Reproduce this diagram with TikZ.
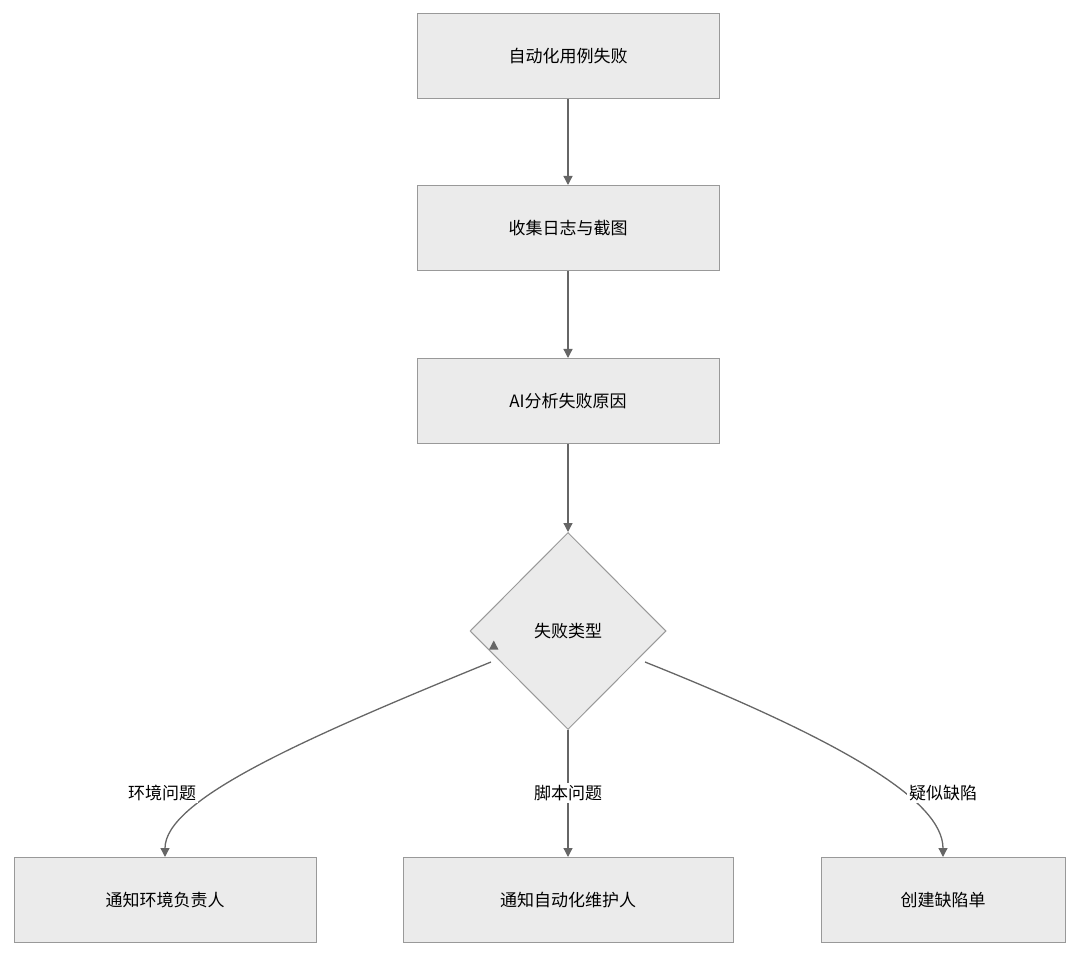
\documentclass[tikz,border=0pt]{standalone}
\usepackage{fontspec}
\setmainfont{Noto Sans CJK SC}
\usetikzlibrary{shapes.geometric,arrows.meta}
\begin{document}
\begin{tikzpicture}[x=1pt,y=-1pt,
  box/.style={draw=black!40,fill=black!8,line width=1pt,minimum height=85pt,font=\fontsize{17}{20}\selectfont},
  arr/.style={draw=black!60,line width=1.3pt,-{Triangle[length=9pt,width=9pt]}},
  lab/.style={fill=white,font=\fontsize{17}{20}\selectfont,inner sep=2pt}]
\useasboundingbox (0,0) rectangle (1080,957);
\node[box,minimum width=302pt] (a) at (568,56.5) {自动化用例失败};
\node[box,minimum width=302pt] (b) at (568,228) {收集日志与截图};
\node[box,minimum width=302pt] (c) at (568,401) {AI分析失败原因};
\node[diamond,draw=black!40,fill=black!8,line width=1pt,minimum width=196pt,minimum height=197pt,inner sep=0pt,font=\fontsize{17}{20}\selectfont] (d) at (568,631) {失败类型};
\node[box,minimum width=302pt] (e) at (165,900) {通知环境负责人};
\node[box,minimum width=330pt] (f) at (568,900) {通知自动化维护人};
\node[box,minimum width=244pt] (g) at (943,900) {创建缺陷单};
\draw[arr] (a) -- (b);
\draw[arr] (b) -- (c);
\draw[arr] (c) -- (d);
\draw[arr] (d) -- (f);
\draw[arr] (d.south west) ++(-25,-40) coordinate (l1);
\draw[arr] (491,662) .. controls (300,740) and (165,800) .. (e.north);
\draw[arr] (645,662) .. controls (840,740) and (943,800) .. (g.north);
\node[lab] (l1t) at (162,793) {环境问题};
\node[lab] (l2t) at (568,793) {脚本问题};
\node[lab] (l3t) at (943,793) {疑似缺陷};
\end{tikzpicture}
\end{document}
